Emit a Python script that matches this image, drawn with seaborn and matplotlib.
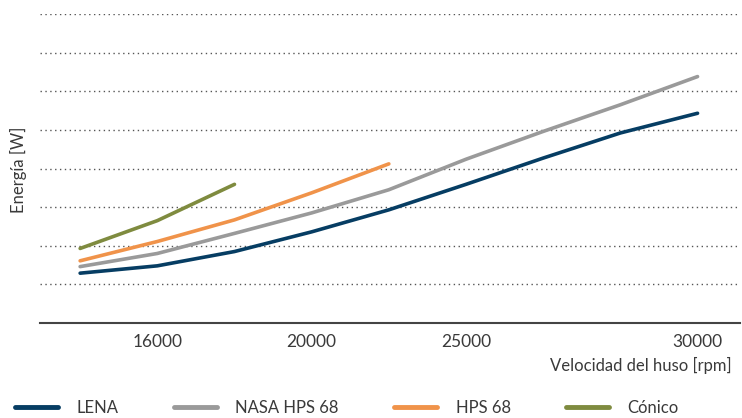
import pandas as pd
import matplotlib.pyplot as plt
import seaborn as sns

# Datos (unidades = líneas de la cuadrícula, eje Y sin etiquetas)
puntos = [0, 1, 2, 3, 4, 5, 6, 7, 8]
lena = [1.29, 1.48, 1.85, 2.36, 2.93, 3.59, 4.27, 4.92, 5.43]
nasa_hps68 = [1.46, 1.80, 2.32, 2.85, 3.45, 4.24, 4.96, 5.65, 6.38]
hps68 = [1.61, 2.11, 2.67, 3.37, 4.12]
conico = [1.93, 2.65, 3.59]

tick_pos = [1, 3, 5, 8]
tick_labels = ['16000', '20000', '25000', '30000']

series = ['LENA', 'NASA HPS 68', 'HPS 68', 'Cónico']
colores = ['#063d63', '#9a9a9a', '#f0934a', '#7f8b3f']

filas = []
for nombre, vals in zip(series, [lena, nasa_hps68, hps68, conico]):
    for x, y in zip(puntos, vals):
        filas.append({'x': x, 'energia': y, 'serie': nombre})
df = pd.DataFrame(filas)

sns.set_theme(style='white')
plt.rcParams['font.family'] = ['Lato', 'DejaVu Sans']

fig = plt.figure(figsize=(7.42, 4.18), dpi=100)
ax = fig.add_axes([40 / 742, (418 - 323) / 418, 700 / 742, 309 / 418])

sns.lineplot(data=df, x='x', y='energia', hue='serie', hue_order=series,
             palette=colores, linewidth=2.6, ax=ax, legend=False)

ax.set_xlim(-0.52, 8.55)
ax.set_ylim(0, 8)
ax.set_yticks(range(1, 9))
ax.set_yticklabels([])
ax.yaxis.grid(True, linestyle=(0, (1, 2.5)), color='#555555', linewidth=1)
ax.xaxis.grid(False)
ax.set_xticks(tick_pos)
ax.set_xticklabels(tick_labels, fontsize=12.5, color='#3a3a3a')
ax.tick_params(axis='both', length=0)
ax.tick_params(axis='x', pad=8)

for s in ['top', 'right', 'left']:
    ax.spines[s].set_visible(False)
ax.spines['bottom'].set_color('#444444')
ax.spines['bottom'].set_linewidth(1.5)

ax.set_xlabel('')
ax.set_ylabel('')
fig.text(732 / 742, (418 - 365) / 418, 'Velocidad del huso [rpm]', ha='right',
         va='center', fontsize=12, color='#3a3a3a')
fig.text(18 / 742, (418 - 170) / 418, 'Energía [W]', rotation=90, ha='center',
         va='center', fontsize=12, color='#3a3a3a')

handles = [plt.Line2D([], [], color=c, linewidth=3.5) for c in colores]
fig.legend(handles, series, loc='center left', bbox_to_anchor=(0.0, 10 / 418),
           ncol=4, frameon=False, fontsize=12, handlelength=2.6,
           handletextpad=1.1, columnspacing=3.3, labelcolor='#3a3a3a')

fig.savefig('out.png', dpi=100)
